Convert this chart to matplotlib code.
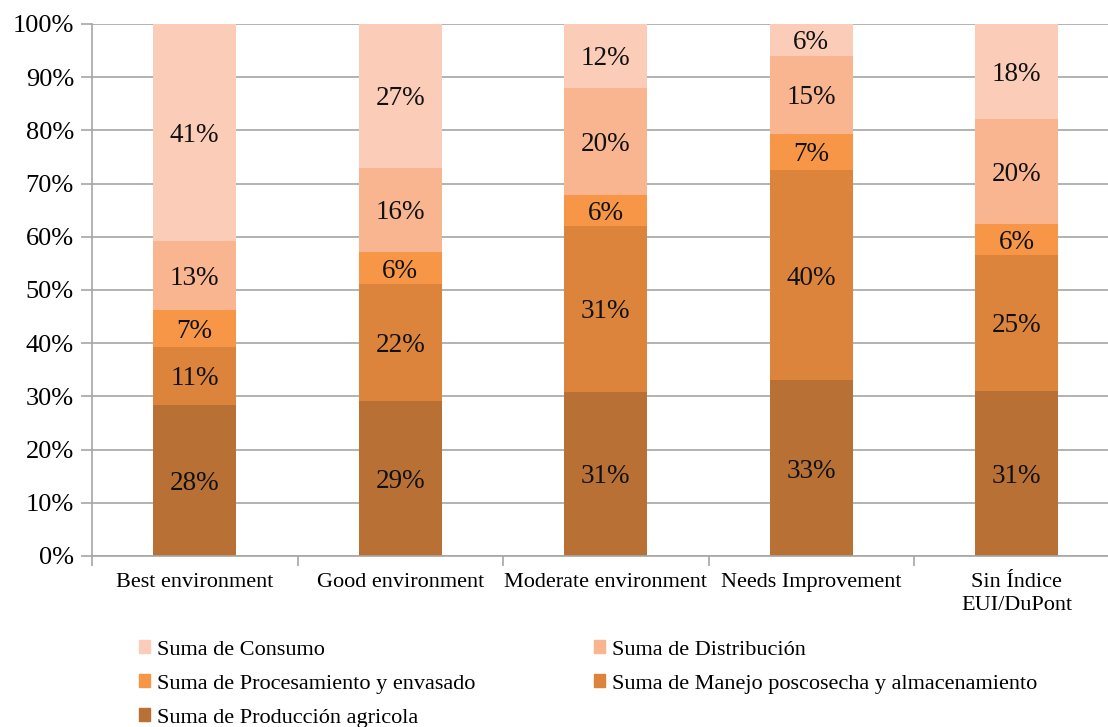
import numpy as np
import matplotlib.pyplot as plt
from matplotlib.patches import Patch

plt.rcParams['font.family'] = ['Liberation Serif', 'DejaVu Serif']

categories = ['Best environment', 'Good environment', 'Moderate environment',
              'Needs Improvement', 'Sin Índice\nEUI/DuPont']

# stacked from the bottom up
produccion = [28.4, 29.2, 30.9, 33.0, 31.1]
manejo = [10.9, 21.9, 31.2, 39.6, 25.4]
procesamiento = [7.0, 6.0, 5.7, 6.8, 5.9]
distribucion = [12.9, 15.9, 20.2, 14.6, 19.8]
consumo = [40.8, 27.0, 12.0, 6.0, 17.8]

series = [
    ('Suma de Producción agricola', produccion, '#B87034'),
    ('Suma de Manejo poscosecha y almacenamiento', manejo, '#DC843C'),
    ('Suma de Procesamiento y envasado', procesamiento, '#F79646'),
    ('Suma de Distribución', distribucion, '#F9B590'),
    ('Suma de Consumo', consumo, '#FBCDB8'),
]

fig = plt.figure(figsize=(11.08, 7.27), dpi=100)
# axes spans a bit past the right edge, as in the (cropped) original
ax = fig.add_axes([92 / 1108, 1 - 556 / 727, (1119.5 - 92) / 1108, (556 - 24) / 727])

x = np.arange(len(categories))
bottom = np.zeros(len(categories))
handles = {}
for name, vals, color in series:
    vals = np.array(vals)
    ax.bar(x, vals, 0.404, bottom=bottom, color=color, zorder=2)
    for xi, b, v in zip(x, bottom, vals):
        ax.text(xi, b + v / 2, f'{v:.0f}%', ha='center', va='center_baseline',
                fontsize=19.5, color='#111111', zorder=3)
    bottom += vals
    handles[name] = Patch(color=color)

ax.set_xlim(-0.5, len(categories) - 0.5)
ax.set_ylim(0, 100)
ax.set_yticks(np.arange(0, 101, 10))
ax.set_yticklabels([f'{t}%' for t in range(0, 101, 10)], fontsize=19)
ax.yaxis.grid(True, color='#A6A6A6', linewidth=1.2, zorder=0)
ax.set_axisbelow(True)

ax.set_xticks(x)
ax.set_xticklabels(categories, fontsize=16, linespacing=1.3)
ax.tick_params(axis='x', length=0, pad=12)
ax.set_xticks(np.arange(-0.5, len(categories), 1), minor=True)
ax.tick_params(axis='x', which='minor', length=7, color='#A6A6A6', width=1.2, direction='out')
ax.tick_params(axis='y', length=8, color='#A6A6A6', width=1.2, pad=5)

for side in ['top', 'right']:
    ax.spines[side].set_visible(False)
for side in ['left', 'bottom']:
    ax.spines[side].set_color('#A6A6A6')
    ax.spines[side].set_linewidth(1.2)

# legend laid out row by row, two columns
order = ['Suma de Consumo', 'Suma de Distribución',
         'Suma de Procesamiento y envasado', 'Suma de Manejo poscosecha y almacenamiento',
         'Suma de Producción agricola']
rows = [order[0:2], order[2:4], order[4:5]]
col_x = [139 / 1108, 594 / 1108]
row_y = [1 - 650 / 727, 1 - 684 / 727, 1 - 718 / 727]
for r, names in enumerate(rows):
    for c, name in enumerate(names):
        fig.legend([handles[name]], [name], loc='center left',
                   bbox_to_anchor=(col_x[c], row_y[r]), frameon=False,
                   fontsize=16, handlelength=0.5, handleheight=0.5,
                   handletextpad=0.3, borderpad=0, borderaxespad=0)

fig.savefig('out.png', dpi=100)
